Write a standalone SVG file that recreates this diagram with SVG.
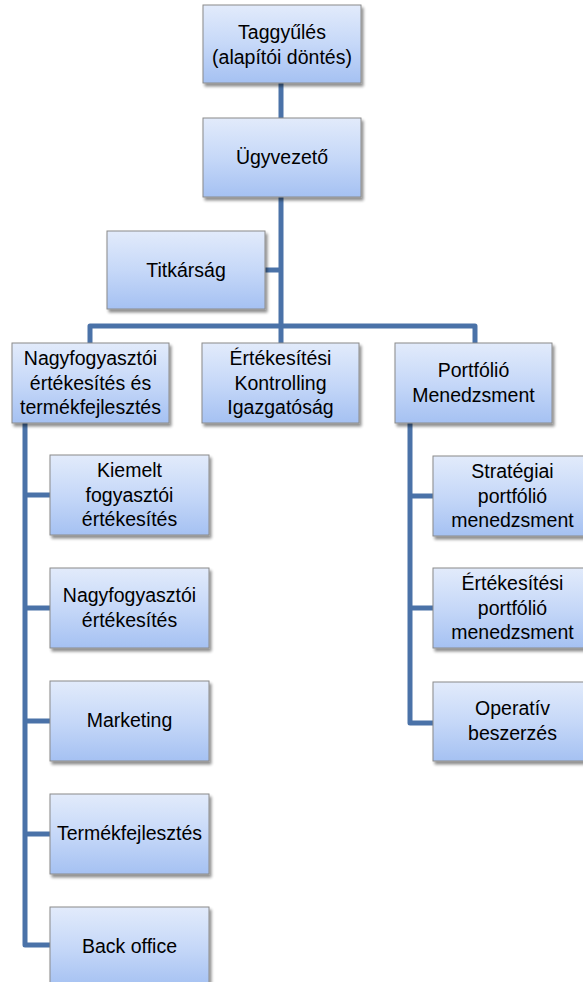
<svg xmlns="http://www.w3.org/2000/svg" width="583" height="982" viewBox="0 0 583 982">
<style>
.box{fill:url(#g);stroke:#8a8a8a;stroke-width:1;filter:url(#sh)}
.t{font-family:"Liberation Sans",Arial,sans-serif;font-size:19.5px;fill:#000;text-anchor:middle}
.c{fill:none;stroke:#4a72a8;stroke-width:5;stroke-linejoin:round;stroke-linecap:butt}
</style>
<defs>
<linearGradient id="g" x1="0" y1="0" x2="0" y2="1">
<stop offset="0" stop-color="#e2ebfb"/>
<stop offset="0.5" stop-color="#c6d8f8"/>
<stop offset="1" stop-color="#a5c1f2"/>
</linearGradient>
<filter id="sh" x="-10%" y="-10%" width="130%" height="130%">
<feGaussianBlur in="SourceAlpha" stdDeviation="1.5"/>
<feOffset dx="1.5" dy="2.5" result="b"/>
<feComponentTransfer><feFuncA type="linear" slope="0.45"/></feComponentTransfer>
<feMerge><feMergeNode/><feMergeNode in="SourceGraphic"/></feMerge>
</filter>
</defs>
<g id="connectors">
<path class="c" d="M281,83 V343"/>
<path class="c" d="M265,270 H281"/>
<path class="c" d="M90,343 V326 H475 V343"/>
<path class="c" d="M25,423 V945 H50"/>
<path class="c" d="M25,495 H50 M25,608 H50 M25,721 H50 M25,834 H50"/>
<path class="c" d="M410,423 V723 H433"/>
<path class="c" d="M410,496 H433 M410,608 H433"/>
</g>
<g id="n1"><rect class="box" x="203" y="5" width="158" height="78"/>
<text class="t" x="282" y="39">Taggyűlés</text><text class="t" x="282" y="64">(alapítói döntés)</text></g>
<g id="n2"><rect class="box" x="203" y="118" width="158" height="79"/>
<text class="t" x="282" y="164">Ügyvezető</text></g>
<g id="n3"><rect class="box" x="107" y="231" width="158" height="78"/>
<text class="t" x="186" y="277">Titkárság</text></g>
<g id="n4"><rect class="box" x="12" y="343" width="157" height="80"/>
<text class="t" x="90.5" y="365">Nagyfogyasztói</text><text class="t" x="90.5" y="389.5">értékesítés és</text><text class="t" x="90.5" y="414">termékfejlesztés</text></g>
<g id="n5"><rect class="box" x="202" y="343" width="157" height="80"/>
<text class="t" x="280.5" y="365">Értékesítési</text><text class="t" x="280.5" y="389.5">Kontrolling</text><text class="t" x="280.5" y="414">Igazgatóság</text></g>
<g id="n6"><rect class="box" x="395" y="343" width="157" height="80"/>
<text class="t" x="473.5" y="377">Portfólió</text><text class="t" x="473.5" y="401.5">Menedzsment</text></g>
<g id="n7"><rect class="box" x="50" y="455" width="159" height="80"/>
<text class="t" x="129.5" y="477">Kiemelt</text><text class="t" x="129.5" y="501.5">fogyasztói</text><text class="t" x="129.5" y="526">értékesítés</text></g>
<g id="n8"><rect class="box" x="50" y="568" width="159" height="80"/>
<text class="t" x="129.5" y="602">Nagyfogyasztói</text><text class="t" x="129.5" y="626.5">értékesítés</text></g>
<g id="n9"><rect class="box" x="50" y="681" width="159" height="80"/>
<text class="t" x="129.5" y="727">Marketing</text></g>
<g id="n10"><rect class="box" x="50" y="794" width="159" height="80"/>
<text class="t" x="129.5" y="840">Termékfejlesztés</text></g>
<g id="n11"><rect class="box" x="50" y="907" width="159" height="80"/>
<text class="t" x="129.5" y="953">Back office</text></g>
<g id="n12"><rect class="box" x="433" y="456" width="160" height="80"/>
<text class="t" x="512.5" y="478">Stratégiai</text><text class="t" x="512.5" y="502.5">portfólió</text><text class="t" x="512.5" y="527">menedzsment</text></g>
<g id="n13"><rect class="box" x="433" y="568" width="160" height="80"/>
<text class="t" x="512.5" y="590">Értékesítési</text><text class="t" x="512.5" y="614.5">portfólió</text><text class="t" x="512.5" y="639">menedzsment</text></g>
<g id="n14"><rect class="box" x="433" y="682" width="160" height="79"/>
<text class="t" x="512.5" y="715">Operatív</text><text class="t" x="512.5" y="739.5">beszerzés</text></g>
</svg>
